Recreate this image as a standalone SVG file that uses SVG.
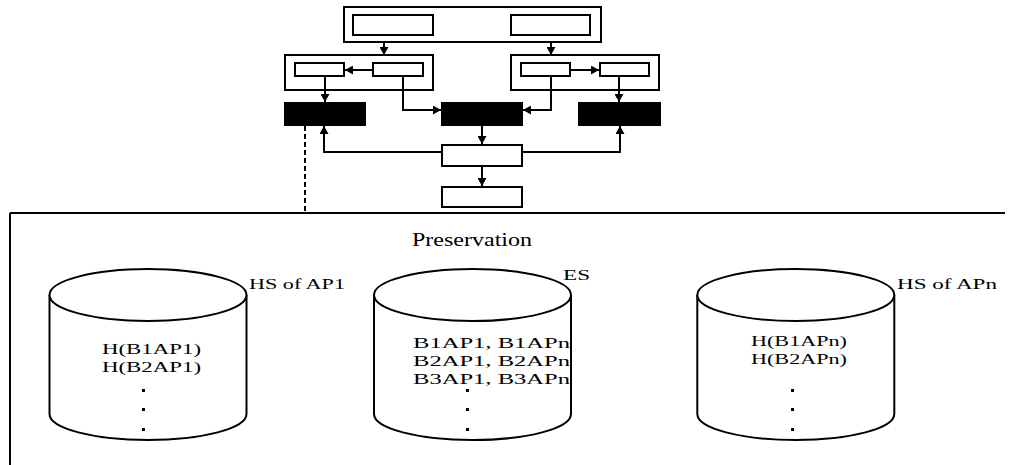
<svg xmlns="http://www.w3.org/2000/svg" width="1012" height="465" viewBox="0 0 1012 465">
<style>
.box{fill:#fff;stroke:#000;stroke-width:2}
.blk{fill:#000;stroke:#000;stroke-width:2}
.ln{fill:none;stroke:#000;stroke-width:2}
.cyl{fill:#fff;stroke:#000;stroke-width:2}
.t{font-family:"Liberation Serif","Times New Roman",serif;fill:#000}
.dot{fill:#000}
</style>
<defs>
<marker id="ah" markerUnits="userSpaceOnUse" markerWidth="9" markerHeight="9" refX="8" refY="4.5" orient="auto">
<path d="M0,0 L8,4.5 L0,9 z" fill="#000"/>
</marker>
</defs>
<rect x="0" y="0" width="1012" height="465" fill="#fff"/>

<g id="top-outer"><rect class="box" x="344" y="7" width="257" height="35"/></g>
<g id="top-left"><rect class="box" x="353" y="15" width="80" height="20"/></g>
<g id="top-right"><rect class="box" x="511" y="15" width="79" height="20"/></g>

<g id="group-left"><rect class="box" x="285" y="55" width="148" height="35"/></g>
<g id="box-a"><rect class="box" x="295" y="63" width="49" height="13"/></g>
<g id="box-b"><rect class="box" x="373" y="63" width="50" height="13"/></g>
<g id="group-right"><rect class="box" x="511" y="55" width="148" height="35"/></g>
<g id="box-c"><rect class="box" x="521" y="63" width="49" height="13"/></g>
<g id="box-d"><rect class="box" x="600" y="63" width="49" height="13"/></g>

<g id="black-left"><rect class="blk" x="285" y="103" width="80" height="22"/></g>
<g id="black-mid"><rect class="blk" x="442" y="103" width="80" height="22"/></g>
<g id="black-right"><rect class="blk" x="579" y="103" width="81" height="22"/></g>

<g id="box-e"><rect class="box" x="442" y="145" width="80" height="21"/></g>
<g id="box-f"><rect class="box" x="442" y="187" width="80" height="20"/></g>

<g id="connectors">
<path class="ln" d="M384,42 V55" marker-end="url(#ah)"/>
<path class="ln" d="M551,42 V55" marker-end="url(#ah)"/>
<path class="ln" d="M373,70 H345" marker-end="url(#ah)"/>
<path class="ln" d="M570,70 H599" marker-end="url(#ah)"/>
<path class="ln" d="M325,76 V102" marker-end="url(#ah)"/>
<path class="ln" d="M619,76 V102" marker-end="url(#ah)"/>
<path class="ln" d="M403,76 V110 H441" marker-end="url(#ah)"/>
<path class="ln" d="M551,76 V110 H523" marker-end="url(#ah)"/>
<path class="ln" d="M482,126 V144" marker-end="url(#ah)"/>
<path class="ln" d="M442,152 H324 V126" marker-end="url(#ah)"/>
<path class="ln" d="M522,152 H620 V126" marker-end="url(#ah)"/>
<path class="ln" d="M482,167 V186" marker-end="url(#ah)"/>
<path class="ln" d="M305,126 V213" stroke-dasharray="5,3"/>
</g>

<g id="preservation-frame">
<path class="ln" d="M10,213 H1005 M10,213 V465"/>
<text class="t" x="412" y="246" font-size="18" textLength="120" lengthAdjust="spacingAndGlyphs">Preservation</text>
</g>

<g id="hs-ap1">
<path class="cyl" d="M49.5,295 V414 A98.5,26 0 0 0 246.5,414 V295"/>
<ellipse class="cyl" cx="148" cy="295" rx="98.5" ry="26"/>
<text class="t" x="249" y="289" font-size="15" textLength="96" lengthAdjust="spacingAndGlyphs">HS of AP1</text>
<text class="t" x="102" y="354" font-size="15.5" textLength="99" lengthAdjust="spacingAndGlyphs">H(B1AP1)</text>
<text class="t" x="102" y="372" font-size="15.5" textLength="99" lengthAdjust="spacingAndGlyphs">H(B2AP1)</text>
<rect class="dot" x="142" y="389" width="3" height="3"/>
<rect class="dot" x="142" y="408" width="3" height="3"/>
<rect class="dot" x="142" y="428" width="3" height="3"/>
</g>

<g id="es">
<path class="cyl" d="M374,295 V414 A98.5,26 0 0 0 571,414 V295"/>
<ellipse class="cyl" cx="472.5" cy="295" rx="98.5" ry="26"/>
<text class="t" x="563" y="280" font-size="14" textLength="27" lengthAdjust="spacingAndGlyphs">ES</text>
<text class="t" x="413" y="348" font-size="15.5" textLength="157" lengthAdjust="spacingAndGlyphs">B1AP1, B1APn</text>
<text class="t" x="413" y="366" font-size="15.5" textLength="157" lengthAdjust="spacingAndGlyphs">B2AP1, B2APn</text>
<text class="t" x="413" y="384" font-size="15.5" textLength="157" lengthAdjust="spacingAndGlyphs">B3AP1, B3APn</text>
<rect class="dot" x="466" y="389" width="3" height="3"/>
<rect class="dot" x="466" y="408" width="3" height="3"/>
<rect class="dot" x="466" y="428" width="3" height="3"/>
</g>

<g id="hs-apn">
<path class="cyl" d="M697.3,295 V414 A98.5,26 0 0 0 894.3,414 V295"/>
<ellipse class="cyl" cx="795.8" cy="295" rx="98.5" ry="26"/>
<text class="t" x="897" y="289" font-size="15" textLength="100" lengthAdjust="spacingAndGlyphs">HS of APn</text>
<text class="t" x="751" y="346" font-size="15.5" textLength="96" lengthAdjust="spacingAndGlyphs">H(B1APn)</text>
<text class="t" x="751" y="364" font-size="15.5" textLength="96" lengthAdjust="spacingAndGlyphs">H(B2APn)</text>
<rect class="dot" x="791" y="389" width="3" height="3"/>
<rect class="dot" x="791" y="408" width="3" height="3"/>
<rect class="dot" x="791" y="428" width="3" height="3"/>
</g>
</svg>
